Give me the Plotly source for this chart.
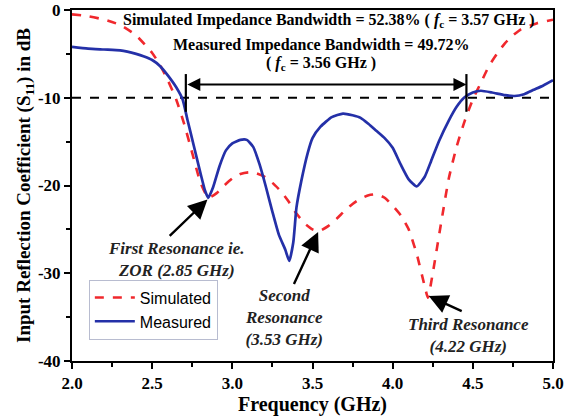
import plotly.graph_objects as go

# Simulated S11 (dB) versus frequency (GHz)
freq_sim = [2.00, 2.10, 2.20, 2.30, 2.40, 2.50, 2.55, 2.60, 2.65, 2.70, 2.75, 2.80, 2.85,
            2.90, 2.95, 3.00, 3.05, 3.10, 3.15, 3.20, 3.25, 3.30, 3.35, 3.40, 3.45, 3.50,
            3.54, 3.60, 3.65, 3.70, 3.75, 3.80, 3.85, 3.90, 3.95, 4.00, 4.05, 4.10, 4.15,
            4.20, 4.22, 4.25, 4.30, 4.35, 4.40, 4.45, 4.50, 4.55, 4.60, 4.65, 4.70, 4.75,
            4.80, 4.90, 5.00]
s11_sim = [-0.5, -0.7, -1.1, -1.7, -2.9, -4.9, -6.3, -8.1, -10.2, -13.0, -16.3, -19.6, -21.4,
           -20.9, -20.0, -19.2, -18.7, -18.5, -18.6, -19.0, -19.7, -20.6, -21.8, -23.2, -24.3, -25.0,
           -25.2, -24.6, -23.8, -22.9, -22.1, -21.5, -21.1, -21.0, -21.4, -22.3, -23.4, -25.0, -27.8,
           -31.5, -32.8, -30.0, -24.5, -19.2, -15.5, -12.6, -10.2, -8.3, -6.4, -5.0, -3.8, -2.9,
           -2.2, -1.5, -1.1]

# Measured S11 (dB) versus frequency (GHz)
freq_meas = [2.00, 2.10, 2.20, 2.30, 2.40, 2.45, 2.50, 2.55, 2.60, 2.65, 2.69, 2.72, 2.76,
             2.80, 2.83, 2.85, 2.88, 2.92, 2.96, 3.00, 3.05, 3.09, 3.13, 3.17, 3.21, 3.25,
             3.29, 3.33, 3.355, 3.38, 3.40, 3.43, 3.47, 3.50, 3.55, 3.62, 3.69, 3.75, 3.80,
             3.85, 3.90, 3.95, 4.00, 4.05, 4.10, 4.15, 4.20, 4.24, 4.29, 4.35, 4.40, 4.445,
             4.50, 4.55, 4.62, 4.70, 4.76, 4.82, 4.88, 4.94, 5.00]
s11_meas = [-4.2, -4.4, -4.5, -4.6, -5.0, -5.3, -5.7, -6.4, -7.5, -8.8, -10.2, -12.5, -15.5,
            -18.5, -20.6, -21.4, -20.2, -17.8, -16.0, -15.2, -14.8, -14.8, -15.6, -17.6, -20.2, -23.0,
            -25.6, -27.3, -28.6, -26.5, -22.5, -19.5, -16.3, -14.6, -13.3, -12.2, -11.8, -12.0, -12.3,
            -13.0, -13.8, -14.6, -15.7, -17.6, -19.3, -20.1, -19.0, -17.2, -14.9, -12.6, -11.0, -10.0,
            -9.4, -9.2, -9.4, -9.7, -9.8, -9.6, -9.1, -8.6, -8.0]

# Impedance-bandwidth markers (measured -10 dB crossings) and reference level
bw_low, bw_high = 2.71, 4.46
ref_level = -10

x_ticks = [2.0, 2.5, 3.0, 3.5, 4.0, 4.5, 5.0]
y_ticks = [0, -10, -20, -30, -40]

SERIF = "Liberation Serif, Times New Roman, serif"
SANS = "Liberation Sans, Arial, sans-serif"
RED = "#f0282d"
BLUE = "#2430a8"

fig = go.Figure()
fig.add_trace(go.Scatter(
    x=freq_sim, y=s11_sim, name="Simulated", mode="lines",
    line=dict(color=RED, width=2.6, dash="dash", shape="spline", smoothing=0.5),
))
fig.add_trace(go.Scatter(
    x=freq_meas, y=s11_meas, name="Measured", mode="lines",
    line=dict(color=BLUE, width=2.7, shape="spline", smoothing=0.5),
))

# -10 dB reference line
fig.add_shape(type="line", xref="x", yref="y", x0=2.0, x1=5.0, y0=ref_level, y1=ref_level,
              line=dict(color="black", width=2, dash="dash"), layer="below")
# bandwidth end bars
for xb in (bw_low, bw_high):
    fig.add_shape(type="line", xref="x", yref="y", x0=xb, x1=xb, y0=-7.3, y1=-11.6,
                  line=dict(color="black", width=2.2))

ann = []
# double-headed bandwidth arrow
ann.append(dict(x=bw_high, y=-8.5, ax=bw_low, ay=-8.5, xref="x", yref="y", axref="x", ayref="y",
                text="", showarrow=True, arrowhead=2, startarrowhead=2, arrowside="end+start",
                arrowsize=1.3, startarrowsize=1.3, arrowwidth=2, arrowcolor="black"))

txt_font = dict(family=SERIF, size=16, color="black")
ann.append(dict(x=3.6, y=-1.25, xref="x", yref="y", showarrow=False, font=txt_font,
                text="<b>Simulated Impedance Bandwidth = 52.38% ( <i>f</i><sub>c</sub> = 3.57 GHz )</b>"))
ann.append(dict(x=3.55, y=-4.0, xref="x", yref="y", showarrow=False, font=txt_font,
                text="<b>Measured Impedance Bandwidth = 49.72%</b>"))
ann.append(dict(x=3.55, y=-6.1, xref="x", yref="y", showarrow=False, font=txt_font,
                text="<b>( <i>f</i><sub>c</sub> = 3.56 GHz )</b>"))

# resonance call-outs
res_font = dict(family=SERIF, size=17, color="#222222")
arrows = [
    (2.845, -21.6, 2.60, -25.9),
    (3.535, -25.3, 3.38, -31.4),
    (4.225, -32.6, 4.44, -34.4),
]
for hx, hy, tx, ty in arrows:
    ann.append(dict(x=hx, y=hy, ax=tx, ay=ty, xref="x", yref="y", axref="x", ayref="y",
                    text="", showarrow=True, arrowhead=2, arrowsize=1.6, arrowwidth=2.4,
                    arrowcolor="black"))

ann.append(dict(x=2.65, y=-28.4, xref="x", yref="y", showarrow=False, font=res_font,
                text="<b><i>First Resonance ie.<br>ZOR (2.85 GHz)</i></b>"))
ann.append(dict(x=3.32, y=-35.0, xref="x", yref="y", showarrow=False, font=res_font,
                text="<b><i>Second<br>Resonance<br>(3.53 GHz)</i></b>"))
ann.append(dict(x=4.47, y=-37.1, xref="x", yref="y", showarrow=False, font=res_font,
                text="<b><i>Third Resonance<br>(4.22 GHz)</i></b>"))

axis_common = dict(
    showline=True, linecolor="black", linewidth=2, mirror=True,
    ticks="outside", ticklen=6, tickwidth=2, tickcolor="black",
    showgrid=False, zeroline=False, automargin=False,
    tickfont=dict(family=SERIF, size=17, color="black"),
)

fig.update_layout(
    width=576, height=417,
    margin=dict(l=72, r=23, t=10, b=56),
    paper_bgcolor="white", plot_bgcolor="white",
    annotations=ann,
    xaxis=dict(
        range=[2.0, 5.0], tickvals=x_ticks, ticktext=[f"<b>{v:.1f}</b>" for v in x_ticks],
        minor=dict(dtick=0.25, ticks="outside", ticklen=4, tickwidth=2, tickcolor="black"),
        title=dict(text="<b>Frequency (GHz)</b>", font=dict(family=SERIF, size=20, color="black"),
                   standoff=0),
        **axis_common,
    ),
    yaxis=dict(
        range=[-40, 0], tickvals=y_ticks, ticktext=[f"<b>{v}</b>" for v in y_ticks],
        minor=dict(dtick=5, ticks="outside", ticklen=4, tickwidth=2, tickcolor="black"),
        title=dict(text="<b>Input Reflection Coefficient (S<sub>11</sub>) in dB</b>",
                   font=dict(family=SERIF, size=19, color="black"), standoff=2),
        **axis_common,
    ),
    legend=dict(
        x=0.035, y=0.232, xanchor="left", yanchor="top",
        bgcolor="white", bordercolor="#b8bcd0", borderwidth=1,
        font=dict(family=SANS, size=16, color="black"),
        tracegroupgap=0, itemwidth=40,
    ),
    showlegend=True,
)

fig.write_html("out.html")
